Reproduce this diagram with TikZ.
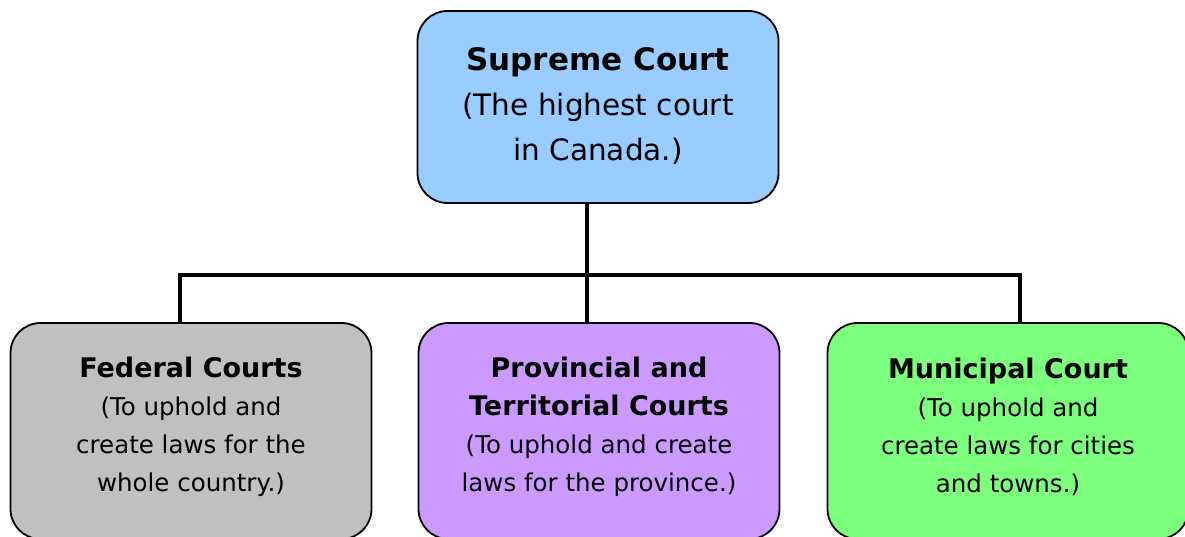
\documentclass[tikz,border=0pt]{standalone}
\usepackage{fontspec}
\setmainfont{DejaVu Sans}
\definecolor{supblue}{HTML}{99CCFF}
\definecolor{fedgray}{HTML}{C0C0C0}
\definecolor{provpurple}{HTML}{CC99FF}
\definecolor{munigreen}{HTML}{7CFF7C}
\newcommand{\toptitle}[1]{{\fontsize{31}{45}\selectfont\bfseries #1}}
\newcommand{\lowtitle}[1]{{\fontsize{27}{38}\selectfont\bfseries #1}}
\begin{document}
\begin{tikzpicture}[x=1pt,y=-1pt,
  court/.style={draw=black,line width=1.8pt,rounded corners=30pt,align=center,inner sep=0pt},
  topbox/.style={court,minimum width=361pt,minimum height=192pt},
  lowbox/.style={court,minimum width=361pt,minimum height=216pt},
  toptext/.style={align=center,font=\fontsize{29.5}{45}\selectfont},
  lowtext/.style={align=center,font=\fontsize{24.5}{38}\selectfont},
  link/.style={line width=4.5pt,line cap=rect}]
\useasboundingbox (0,0) rectangle (1185,537);
\clip (0,0) rectangle (1185,537);
\node[topbox,fill=supblue] (sup) at (598,107) {};
\node[lowbox,fill=fedgray] (fed) at (191,431) {};
\node[lowbox,fill=provpurple] (prov) at (599,431) {};
\node[lowbox,fill=munigreen] (muni) at (1008,431) {};
\node[toptext] (supt) at (598,106)
  {\toptitle{Supreme Court}\\(The highest court\\in Canada.)};
\node[lowtext] (fedt) at (191,427)
  {\lowtitle{Federal Courts}\\(To uphold and\\create laws for the\\whole country.)};
\node[lowtext] (provt) at (599,427)
  {\lowtitle{Provincial and}\\\lowtitle{Territorial Courts}\\(To uphold and create\\laws for the province.)};
\node[lowtext] (munit) at (1008,427)
  {\lowtitle{Municipal Court}\\(To uphold and\\create laws for cities\\and towns.)};
\coordinate (busL) at (180,275);
\coordinate (busR) at (1020,275);
\coordinate (busM) at (587,275);
\draw[link] (sup.south -| busM) -- (busM);
\draw[link] (fed.north -| busL) -- (busL) -- (busR) -- (muni.north -| busR);
\draw[link] (busM) -- (prov.north -| busM);
\end{tikzpicture}
\end{document}
